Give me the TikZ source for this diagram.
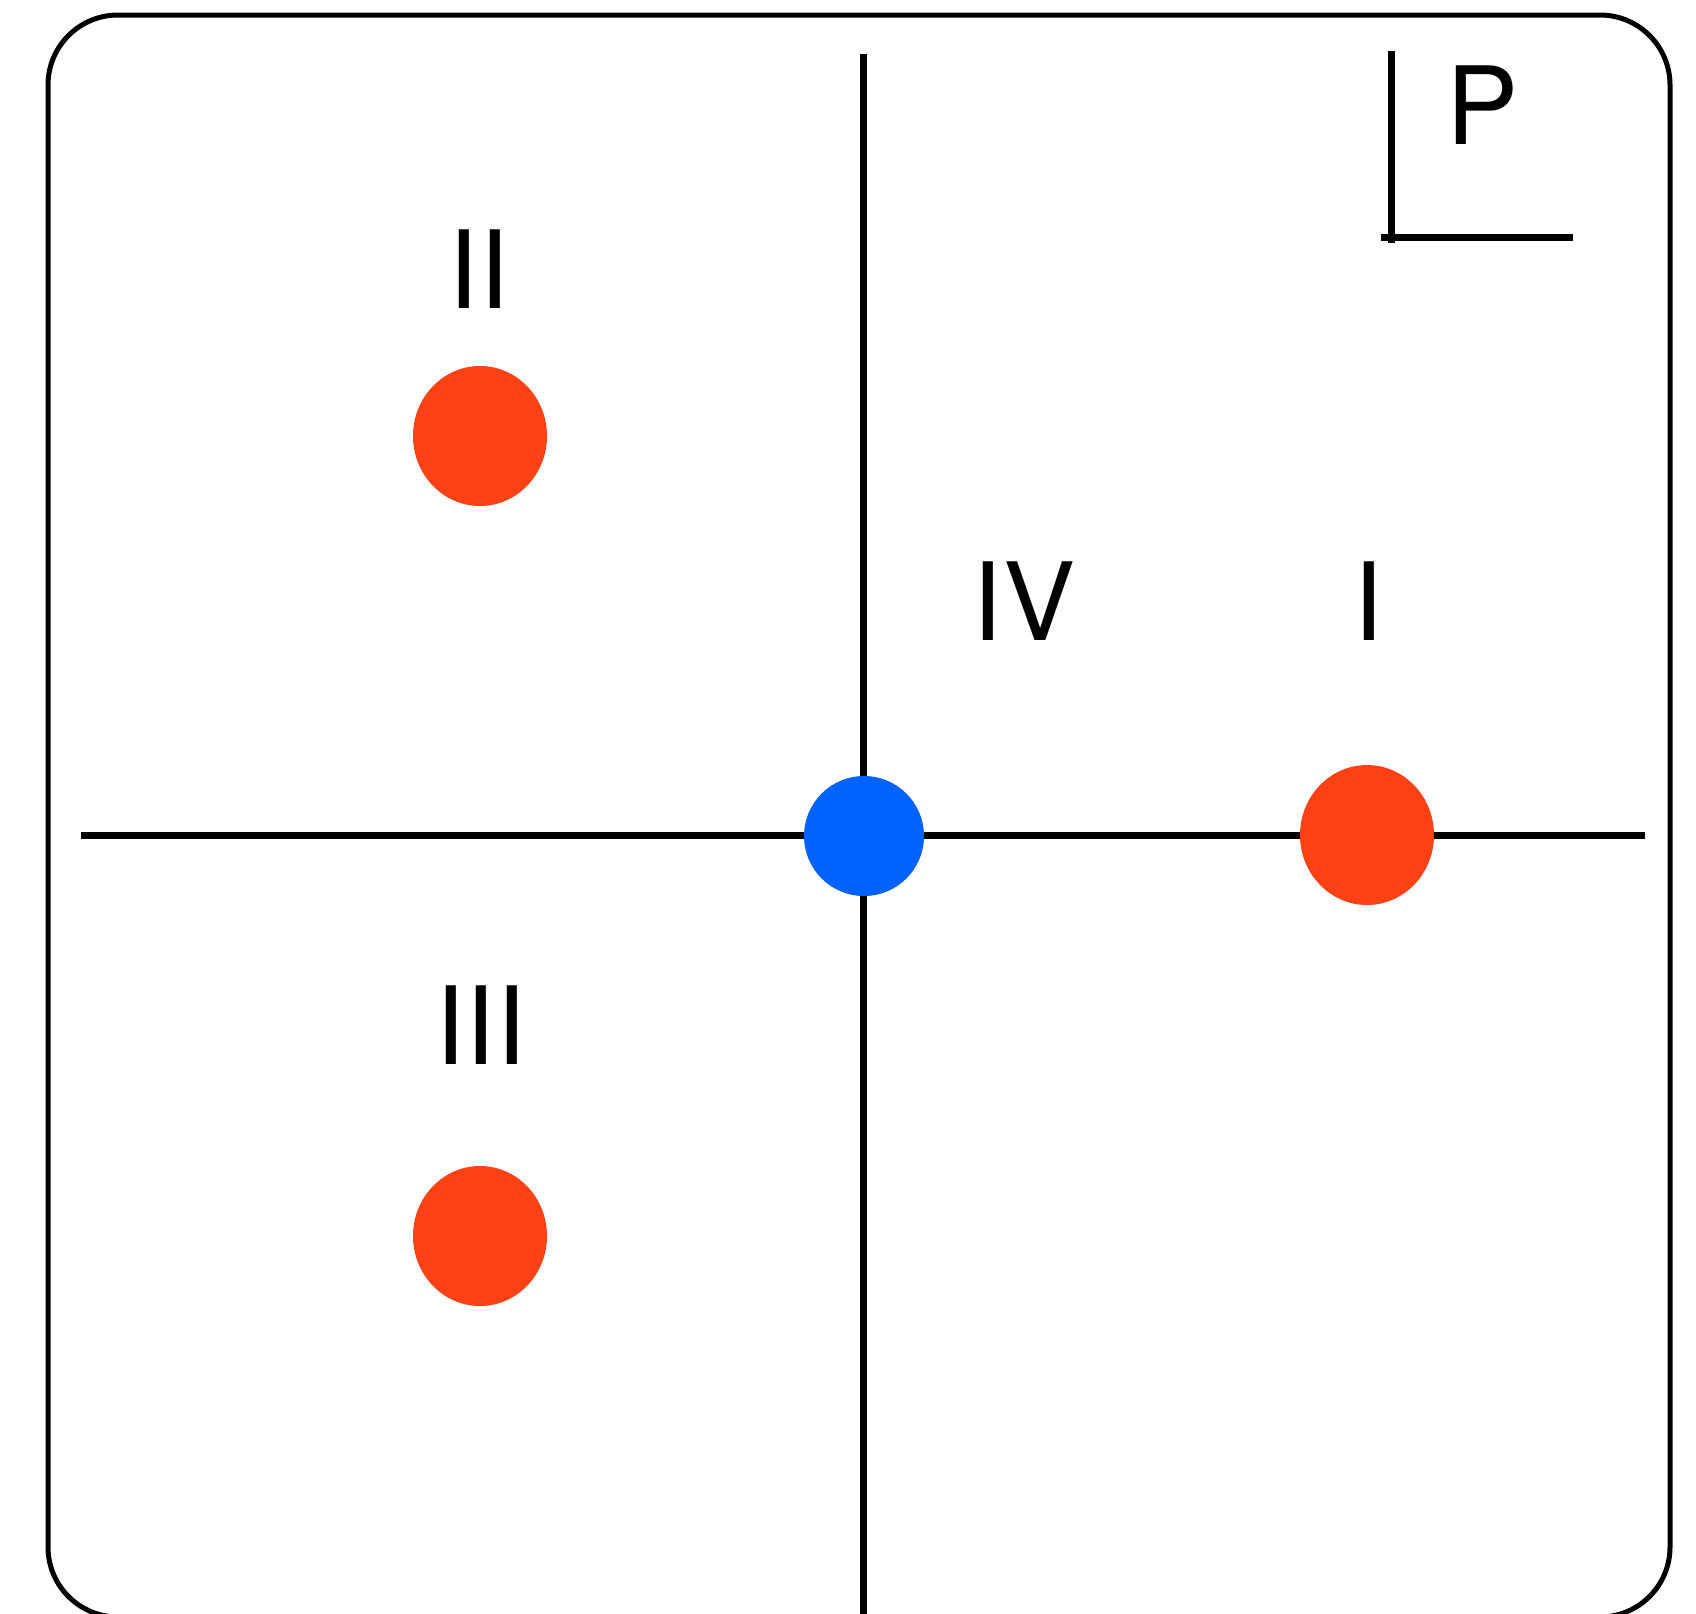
\documentclass[tikz,border=0pt]{standalone}
\usepackage{fontspec}
\setmainfont{TeX Gyre Heros}
\usetikzlibrary{shapes.geometric}
\definecolor{dotred}{RGB}{255,66,21}
\definecolor{dotblue}{RGB}{0,98,255}
\tikzset{
  axis/.style={line width=3.5pt},
  roman/.style={font=\fontsize{54}{60}\selectfont, inner sep=0pt},
  reddot/.style={ellipse, fill=dotred, minimum width=67pt, minimum height=70pt, inner sep=0pt},
  bluedot/.style={circle, fill=dotblue, minimum size=60pt, inner sep=0pt}
}
\begin{document}
\begin{tikzpicture}[x=0.5pt, y=-0.5pt]
  \useasboundingbox (0,0) rectangle (1696,1613);
  \clip (0,0) rectangle (1696,1613);
  \draw[line width=2.5pt, rounded corners=35pt] (48,15) rectangle (1670,1617);
  % axes
  \coordinate (xl) at (81,835);
  \coordinate (xr) at (1645,835);
  \coordinate (yt) at (863,54);
  \coordinate (yb) at (863,1625);
  \draw[axis] (xl) -- (xr);
  \draw[axis] (yt) -- (yb);
  % the small corner mark next to P
  \coordinate (ptop) at (1391,51);
  \coordinate (pbot) at (1391,243);
  \coordinate (pleft) at (1381,237);
  \coordinate (pright) at (1573,237);
  \draw[axis] (ptop) -- (pbot);
  \draw[axis] (pleft) -- (pright);
  \node[roman] (labP) at (1482,105) {P};
  \node[bluedot] (origin) at (864,836) {};
  \node[reddot] (dotI) at (1367,835) {};
  \node[reddot] (dotII) at (480,436) {};
  \node[reddot] (dotIII) at (480,1236) {};
  \node[roman] (labI) at (1368,601) {I};
  \node[roman] (labII) at (479,269) {II};
  \node[roman] (labIII) at (481,1025) {III};
  \node[roman] (labIV) at (1024,601) {IV};
\end{tikzpicture}
\end{document}
